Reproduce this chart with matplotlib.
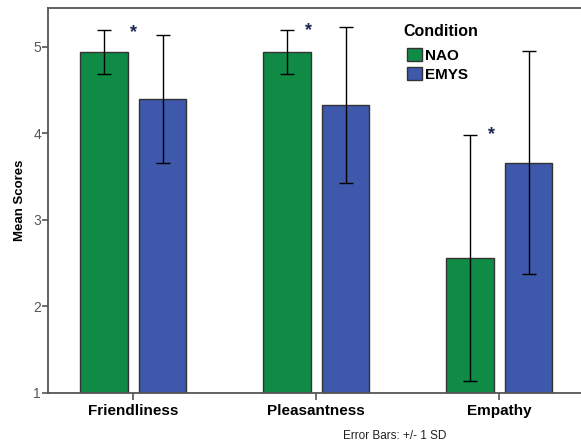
import numpy as np
import matplotlib
matplotlib.use('Agg')
import matplotlib.pyplot as plt

plt.rcParams['font.family'] = ['Liberation Sans', 'DejaVu Sans']

# data
categories = ['Friendliness', 'Pleasantness', 'Empathy']
nao_mean = [4.94, 4.94, 2.56]
nao_sd = [0.25, 0.25, 1.42]
emys_mean = [4.40, 4.33, 3.66]
emys_sd = [0.74, 0.90, 1.29]
star_x = [0.0, 0.96, 1.96]
star_y = [5.17, 5.19, 3.98]

green = '#0f8b45'
blue = '#3e58ab'

fig = plt.figure(figsize=(5.81, 4.44), dpi=100)
ax = fig.add_axes([48 / 581, 1 - 392.7 / 444, 1 - 48 / 581, (392.7 - 8) / 444])

x = np.arange(len(categories))
w = 0.257
off = 0.16

ax.bar(x - off, nao_mean, w, color=green, edgecolor='#333333', linewidth=1.0, label='NAO')
ax.bar(x + off, emys_mean, w, color=blue, edgecolor='#333333', linewidth=1.0, label='EMYS')
ax.errorbar(x - off, nao_mean, yerr=nao_sd, fmt='none', ecolor='black', elinewidth=1.0, capsize=5, capthick=1.0)
ax.errorbar(x + off, emys_mean, yerr=emys_sd, fmt='none', ecolor='black', elinewidth=1.0, capsize=5, capthick=1.0)

# significance markers
for xi, yi in zip(star_x, star_y):
    ax.text(xi, yi, '*', ha='center', va='center', fontsize=13, fontweight='bold', color='#1a2550')

ax.set_ylim(1, 5.45)
ax.set_xlim(-0.466, (581 - 133.3) / 183)
ax.set_yticks([1, 2, 3, 4, 5])
ax.set_xticks(x)
ax.set_xticklabels(categories, fontsize=11, fontweight='bold')
ax.tick_params(axis='y', labelsize=10, labelcolor='#555555', length=4, width=1.2, color='#555555', pad=1)
ax.tick_params(axis='x', length=5, width=1.2, color='#555555', pad=3)

for s in ['left', 'bottom', 'top']:
    ax.spines[s].set_color('#555555')
    ax.spines[s].set_linewidth(1.3)
ax.spines['right'].set_visible(False)

ax.set_ylabel('Mean Scores', fontsize=9.5, fontweight='bold', labelpad=5)

# legend: title drawn separately to get the wider gap
fig.text(403 / 581, 1 - 32 / 444, 'Condition', ha='left', va='center', fontsize=11.5, fontweight='bold')
ax.legend(loc='upper left', bbox_to_anchor=(396 / 581, 1 - 37 / 444), bbox_transform=fig.transFigure,
          frameon=False, prop={'weight': 'bold', 'size': 11}, handlelength=1.0, handleheight=1.0,
          handletextpad=0.2, labelspacing=0.25, borderpad=0.2)

fig.text(395 / 581, 1 - 436 / 444, 'Error Bars: +/- 1 SD', ha='center', va='center', fontsize=8.5, color='#222222')

fig.savefig('out.png', dpi=100)
